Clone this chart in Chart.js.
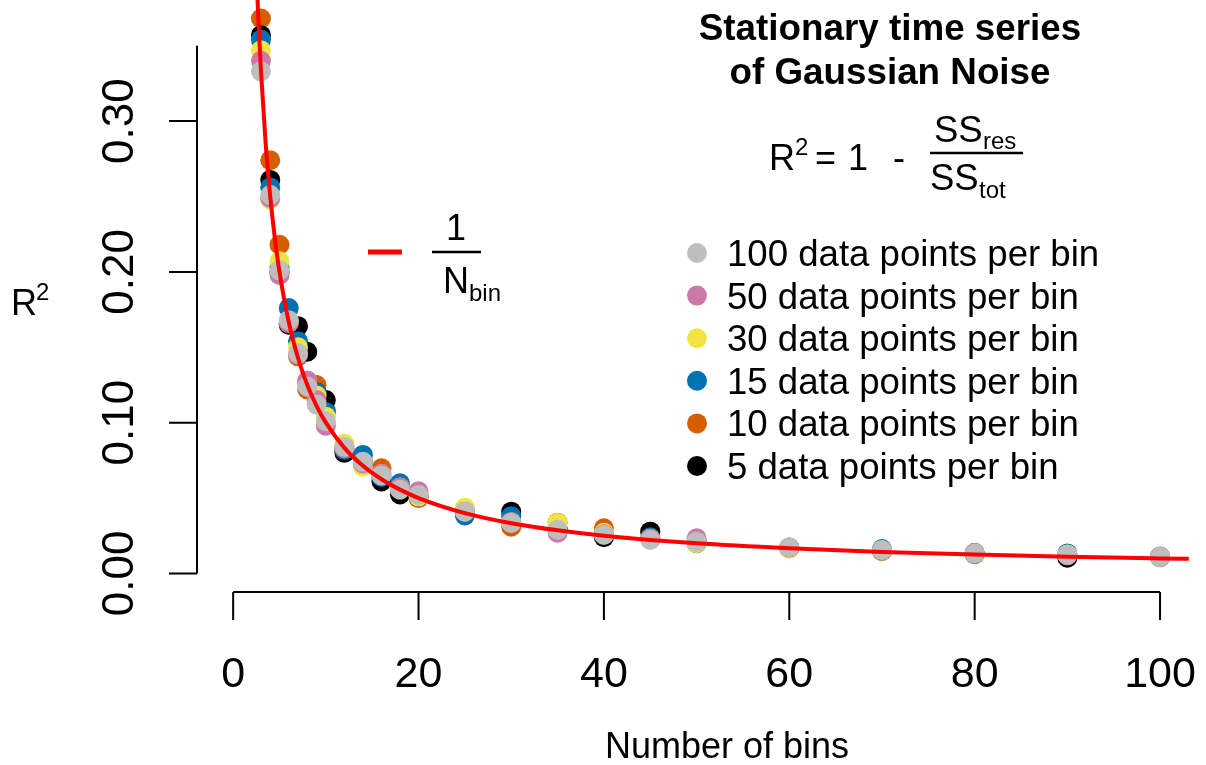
<!DOCTYPE html>
<html>
<head>
<meta charset="utf-8">
<script src="https://cdn.jsdelivr.net/npm/chart.js@4.4.1/dist/chart.umd.min.js"></script>
<style>
  html, body { margin: 0; padding: 0; background: #fff; }
  #wrap { width: 1206px; height: 765px; }
</style>
</head>
<body>
<div id="wrap"><canvas id="chart" width="1206" height="765"></canvas></div>
<script>
// Number of bins (x) shared by every series
const nBins = [3, 4, 5, 6, 7, 8, 9, 10, 12, 14, 16, 18, 20, 25, 30, 35, 40, 45, 50, 60, 70, 80, 90, 100];

// R^2, one array per bin size
const r2Dp100 = [0.333, 0.251, 0.201, 0.168, 0.146, 0.124, 0.112, 0.101, 0.084, 0.074, 0.065, 0.0555, 0.052, 0.041, 0.0335, 0.029, 0.0255, 0.0222, 0.0211, 0.0174, 0.0156, 0.0134, 0.0124, 0.0111];
const r2Dp50  = [0.340, 0.249, 0.198, 0.166, 0.145, 0.128, 0.115, 0.098, 0.083, 0.073, 0.066, 0.057, 0.0545, 0.041, 0.034, 0.027, 0.026, 0.023, 0.0233, 0.0172, 0.0153, 0.0133, 0.0120, 0.0110];
const r2Dp30  = [0.347, 0.248, 0.207, 0.167, 0.150, 0.125, 0.118, 0.104, 0.086, 0.071, 0.066, 0.057, 0.051, 0.0435, 0.034, 0.0335, 0.027, 0.023, 0.020, 0.0165, 0.015, 0.013, 0.0125, 0.0108];
const r2Dp15  = [0.354, 0.256, 0.203, 0.176, 0.154, 0.126, 0.120, 0.107, 0.082, 0.0786, 0.064, 0.0598, 0.052, 0.0385, 0.038, 0.030, 0.026, 0.024, 0.021, 0.017, 0.0162, 0.0135, 0.0133, 0.0110];
const r2Dp10  = [0.368, 0.274, 0.218, 0.166, 0.144, 0.122, 0.125, 0.108, 0.084, 0.074, 0.0698, 0.056, 0.050, 0.041, 0.031, 0.0337, 0.030, 0.0277, 0.021, 0.0168, 0.015, 0.0135, 0.0115, 0.0112];
const r2Dp5   = [0.357, 0.261, 0.200, 0.165, 0.164, 0.147, 0.120, 0.115, 0.080, 0.073, 0.061, 0.0524, 0.051, 0.040, 0.041, 0.030, 0.024, 0.0277, 0.020, 0.017, 0.015, 0.0128, 0.0105, 0.0108];

// red reference curve (1 / N_bin)
const curveX = [2.5, 2.75, 3, 3.5, 4, 4.5, 5, 6, 7, 8, 9, 10, 12, 14, 16, 18, 20, 25, 30, 35, 40, 50, 60, 70, 80, 90, 100, 103.1];
const curveY = [0.4, 0.3636, 0.3333, 0.2857, 0.25, 0.2222, 0.2, 0.1667, 0.1429, 0.125, 0.1111, 0.1, 0.0833, 0.0714, 0.0625, 0.0556, 0.05, 0.04, 0.0333, 0.0286, 0.025, 0.02, 0.0167, 0.0143, 0.0125, 0.0111, 0.01, 0.0097];

const xTicks = [0, 20, 40, 60, 80, 100];
const yTicks = [0, 0.1, 0.2, 0.3];
const yTickLabels = ['0.00', '0.10', '0.20', '0.30'];

const seriesLabels = ['100 data points per bin', '50 data points per bin', '30 data points per bin',
  '15 data points per bin', '10 data points per bin', '5 data points per bin'];
const seriesValues = [r2Dp100, r2Dp50, r2Dp30, r2Dp15, r2Dp10, r2Dp5];
const seriesColors = ['#BEBEBE', '#CC79A7', '#F0E442', '#0072B2', '#D55E00', '#000000'];
// lower = drawn later (on top); grey ends up over everything except the curve
const seriesOrder = [1, 2, 3, 4, 6, 5];

const FONT = '"Liberation Sans", Arial, Helvetica, sans-serif';

// draws a run of text pieces: [text, size, left x, baseline y]
function drawPieces(ctx, pieces) {
  pieces.forEach(([txt, size, px, py, bold]) => {
    ctx.font = `${bold ? 'bold ' : ''}${size}px ${FONT}`;
    ctx.fillText(txt, px, py);
  });
}

// R base-graphics style axes, labels, legend and formula
const rDecor = {
  id: 'rDecor',
  afterDraw(chart) {
    const { ctx, scales: { x, y } } = chart;
    ctx.save();
    ctx.strokeStyle = '#000';
    ctx.fillStyle = '#000';
    ctx.lineWidth = 2;

    // x axis
    const axY = 592;
    ctx.beginPath();
    ctx.moveTo(x.getPixelForValue(xTicks[0]), axY);
    ctx.lineTo(x.getPixelForValue(xTicks[xTicks.length - 1]), axY);
    xTicks.forEach(v => {
      const px = x.getPixelForValue(v);
      ctx.moveTo(px, axY);
      ctx.lineTo(px, axY + 28);
    });
    ctx.stroke();
    ctx.font = `43px ${FONT}`;
    ctx.textAlign = 'center';
    ctx.textBaseline = 'alphabetic';
    xTicks.forEach(v => ctx.fillText(String(v), x.getPixelForValue(v), 687));

    // y axis
    const axX = 197;
    ctx.beginPath();
    ctx.moveTo(axX, y.getPixelForValue(0));
    ctx.lineTo(axX, y.getPixelForValue(0.35));
    yTicks.forEach(v => {
      const py = y.getPixelForValue(v);
      ctx.moveTo(axX, py);
      ctx.lineTo(axX - 28, py);
    });
    ctx.stroke();
    ctx.font = `44px ${FONT}`;
    yTicks.forEach((v, i) => {
      ctx.save();
      ctx.translate(133, y.getPixelForValue(v));
      ctx.rotate(-Math.PI / 2);
      ctx.fillText(yTickLabels[i], 0, 0);
      ctx.restore();
    });

    // axis titles
    ctx.font = `36px ${FONT}`;
    ctx.fillText('Number of bins', 727, 758);
    ctx.textAlign = 'left';
    drawPieces(ctx, [['R', 36, 11, 315], ['2', 24, 36, 300]]);

    // title
    ctx.textAlign = 'center';
    ctx.font = `bold 36.8px ${FONT}`;
    ctx.fillText('Stationary time series', 890, 40);
    ctx.fillText('of Gaussian Noise', 890, 84);

    // R^2 formula
    ctx.textAlign = 'left';
    drawPieces(ctx, [
      ['R', 36, 769, 170], ['2', 24, 795, 155], ['=', 36, 815, 170], ['1', 36, 848, 170], ['-', 36, 893, 170],
      ['SS', 36.5, 934, 142], ['res', 24, 983, 149],
      ['SS', 36.5, 930, 190], ['tot', 24, 979, 198]
    ]);
    ctx.lineWidth = 2.5;
    ctx.beginPath();
    ctx.moveTo(930, 153);
    ctx.lineTo(1023, 153);
    ctx.stroke();

    // curve legend: red segment and 1 / N_bin
    ctx.strokeStyle = '#FF0000';
    ctx.lineWidth = 5;
    ctx.beginPath();
    ctx.moveTo(368, 252);
    ctx.lineTo(402, 252);
    ctx.stroke();
    ctx.strokeStyle = '#000';
    ctx.lineWidth = 2.5;
    ctx.beginPath();
    ctx.moveTo(432, 252);
    ctx.lineTo(481, 252);
    ctx.stroke();
    ctx.textAlign = 'center';
    ctx.font = `36px ${FONT}`;
    ctx.fillText('1', 456, 240);
    ctx.textAlign = 'left';
    drawPieces(ctx, [['N', 36, 443, 293], ['bin', 24, 469, 301]]);

    // point legend
    ctx.font = `36.6px ${FONT}`;
    seriesLabels.forEach((lab, i) => {
      const cy = 253 + i * 42.6;
      ctx.fillStyle = seriesColors[i];
      ctx.beginPath();
      ctx.arc(697, cy, 10, 0, Math.PI * 2);
      ctx.fill();
      ctx.fillStyle = '#000';
      ctx.fillText(lab, 727, cy + 13);
    });
    ctx.restore();
  }
};

const datasets = [{
  type: 'line',
  data: curveX.map((v, i) => ({ x: v, y: curveY[i] })),
  showLine: true,
  borderColor: '#FF0000',
  borderWidth: 4,
  pointRadius: 0,
  cubicInterpolationMode: 'monotone',
  order: 0
}];
seriesValues.forEach((vals, i) => {
  datasets.push({
    label: seriesLabels[i],
    data: nBins.map((n, j) => ({ x: n, y: vals[j] })),
    backgroundColor: seriesColors[i],
    pointRadius: 10,
    pointBorderWidth: 0,
    order: seriesOrder[i]
  });
});

new Chart(document.getElementById('chart'), {
  type: 'scatter',
  data: { datasets },
  options: {
    responsive: false,
    animation: false,
    layout: { autoPadding: false, padding: { left: 225, right: 10, top: 0, bottom: 184 } },
    scales: {
      x: { type: 'linear', display: false, min: -0.88, max: 103.88 },
      y: { type: 'linear', display: false, min: -0.005, max: 0.3803 }
    },
    plugins: {
      legend: { display: false },
      tooltip: { enabled: false }
    }
  },
  plugins: [rDecor]
});
</script>
</body>
</html>
